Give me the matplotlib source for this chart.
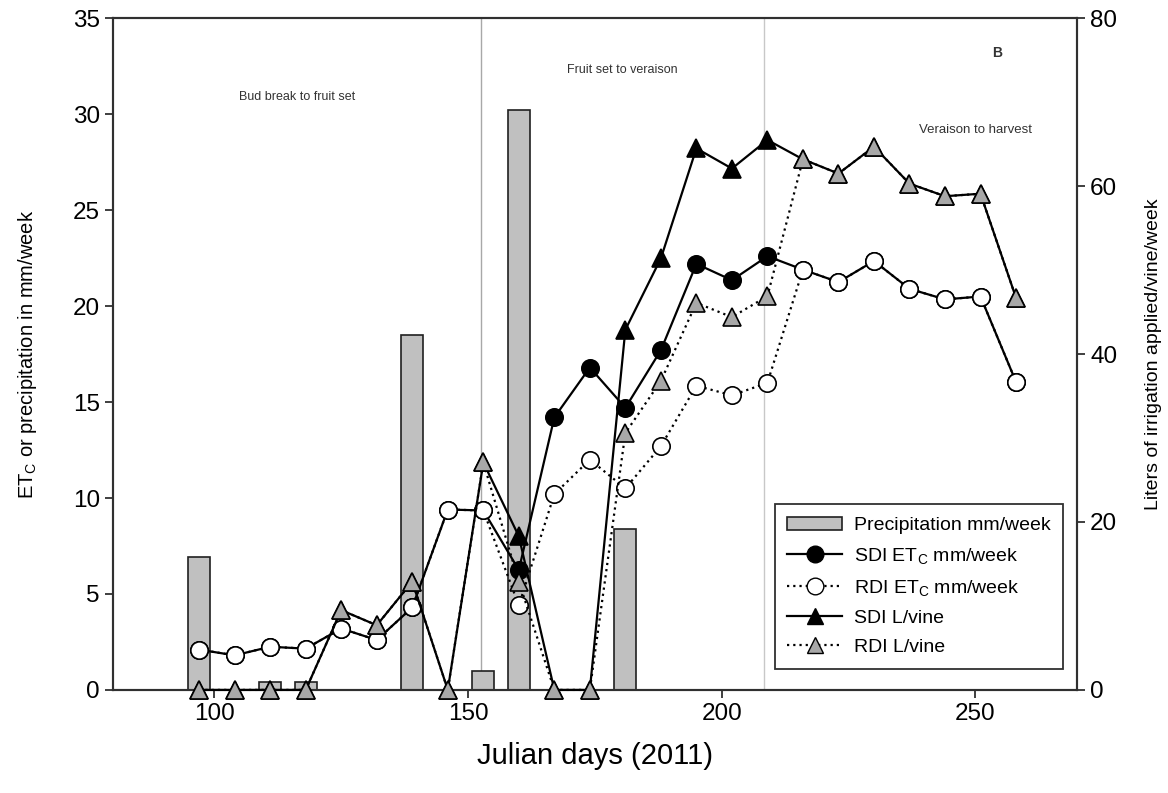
import matplotlib
matplotlib.use("Agg")
import matplotlib.pyplot as plt
from matplotlib.patches import Patch
from matplotlib.lines import Line2D

plt.rcParams['font.family'] = ['Liberation Sans', 'DejaVu Sans']
plt.rcParams['mathtext.fontset'] = 'custom'
plt.rcParams['mathtext.rm'] = 'Liberation Sans'
plt.rcParams['mathtext.it'] = 'Liberation Sans:italic'

# weekly dates (Julian day, 2011)
days = [97, 104, 111, 118, 125, 132, 139, 146, 153, 160, 167, 174,
        181, 188, 195, 202, 209, 216, 223, 230, 237, 244, 251, 258]

# ETc, mm/week
sdi_etc = [2.1, 1.8, 2.25, 2.15, 3.2, 2.6, 4.3, 9.4, 9.35, 6.25, 14.2, 16.8,
           14.7, 17.7, 22.2, 21.35, 22.6, 21.9, 21.25, 22.35, 20.9, 20.35, 20.5, 16.05]
rdi_etc = [2.1, 1.8, 2.25, 2.15, 3.2, 2.6, 4.3, 9.4, 9.35, 4.4, 10.2, 12.0,
           10.5, 12.7, 15.85, 15.35, 16.0, 21.9, 21.25, 22.35, 20.9, 20.35, 20.5, 16.05]

# irrigation, L/vine/week
sdi_l = [0, 0, 0, 0, 9.5, 7.7, 12.9, 0, 27.1, 18.3, 0, 0,
         42.9, 51.4, 64.5, 62.1, 65.5, 63.2, 61.5, 64.7, 60.3, 58.8, 59.1, 46.7]
rdi_l = [0, 0, 0, 0, 9.5, 7.7, 12.9, 0, 27.1, 12.9, 0, 0,
         30.6, 36.8, 46.1, 44.4, 46.9, 63.2, 61.5, 64.7, 60.3, 58.8, 59.1, 46.7]

# precipitation, mm/week
rain_days = [97, 111, 118, 139, 153, 160, 181]
rain = [6.9, 0.4, 0.4, 18.5, 1.0, 30.2, 8.4]

# stage boundaries
fruit_set = 152.5
veraison = 208.3

fig = plt.figure(figsize=(11.68, 7.93), dpi=100)
ax = fig.add_axes([0.0967, 0.130, 0.8253, 0.847])
ax2 = ax.twinx()

ax.axvline(fruit_set, color='#a8a8a8', lw=1.0, zorder=0)
ax.axvline(veraison, color='#c8c8c8', lw=1.0, zorder=0)

ax.bar(rain_days, rain, width=4.3, color='#c0c0c0', edgecolor='#202020',
       linewidth=1.2, zorder=1)

dot = (0, (1, 1.8))
line_kw = dict(lw=1.6, ms=12.5, mec='black', mew=1.2, zorder=3, clip_on=False)
ax.plot(days, sdi_etc, '-', color='black', marker='o', mfc='black', **line_kw)
ax.plot(days, rdi_etc, color='black', ls=dot, marker='o', mfc='white', **line_kw)
ax2.plot(days, sdi_l, '-', color='black', marker='^', mfc='black', **line_kw)
ax2.plot(days, rdi_l, color='black', ls=dot, marker='^', mfc='#a8a8a8', **line_kw)

ax.set_xlim(80, 270)
ax.set_ylim(0, 35)
ax2.set_ylim(0, 80)
ax.set_xticks([100, 150, 200, 250])
ax.set_yticks(range(0, 36, 5))
ax2.set_yticks(range(0, 81, 20))

for a in (ax, ax2):
    for s in a.spines.values():
        s.set_linewidth(1.5)
        s.set_color('#303030')
ax.tick_params(axis='both', labelsize=17.5, length=6, width=1.3, color='#303030')
ax2.tick_params(axis='y', labelsize=17.5, length=6, width=1.3, color='#303030')

ax.set_xlabel('Julian days (2011)', fontsize=21, labelpad=12)
ax.set_ylabel('ET$_\\mathrm{C}$ or precipitation in mm/week', fontsize=14.5, labelpad=24)
ax2.set_ylabel('Liters of irrigation applied/vine/week', fontsize=14, labelpad=20)

ax.text(116.4, 30.9, 'Bud break to fruit set', fontsize=9, ha='center', va='center', color='#333333')
ax.text(180.4, 32.3, 'Fruit set to veraison', fontsize=9, ha='center', va='center', color='#333333')
ax.text(250, 29.2, 'Veraison to harvest', fontsize=9.5, ha='center', va='center', color='#333333')
ax.text(254.2, 33.2, 'B', fontsize=10, fontweight='bold', ha='center', va='center', color='#333333')

handles = [
    Patch(facecolor='#c0c0c0', edgecolor='#202020', linewidth=1.2),
    Line2D([], [], color='black', lw=1.6, marker='o', ms=12, mfc='black', mec='black'),
    Line2D([], [], color='black', lw=1.6, ls=dot, marker='o', ms=12, mfc='white', mec='black'),
    Line2D([], [], color='black', lw=1.6, marker='^', ms=12, mfc='black', mec='black'),
    Line2D([], [], color='black', lw=1.6, ls=dot, marker='^', ms=12, mfc='#a8a8a8', mec='black'),
]
labels = ['Precipitation mm/week', 'SDI ET$_\\mathrm{C}$ mm/week', 'RDI ET$_\\mathrm{C}$ mm/week',
          'SDI L/vine', 'RDI L/vine']
leg = ax2.legend(handles, labels, loc='upper right', bbox_to_anchor=(0.9855, 0.2768),
                 borderaxespad=0, fontsize=14, fancybox=False, framealpha=1,
                 edgecolor='#303030', handlelength=2.8, labelspacing=0.6,
                 handletextpad=0.6, borderpad=0.65)
leg.get_frame().set_linewidth(1.3)
leg.set_zorder(10)

fig.savefig('out.png', dpi=100)
